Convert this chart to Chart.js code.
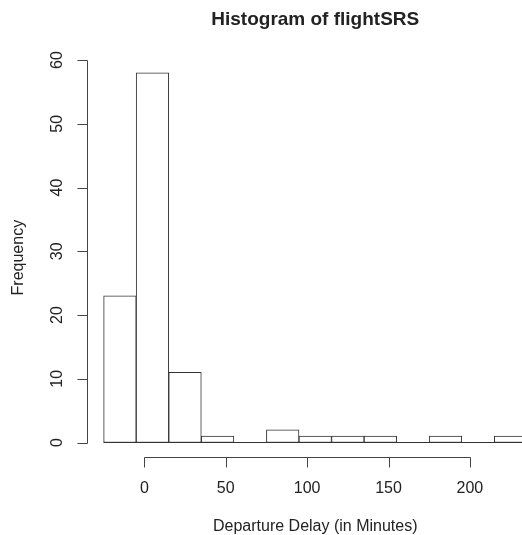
<!DOCTYPE html>
<html>
<head>
<meta charset="utf-8">
<script src="https://cdn.jsdelivr.net/npm/chart.js@4/dist/chart.umd.min.js"></script>
<style>
  html, body { margin: 0; padding: 0; background: #fff; overflow: hidden; }
  #wrap { width: 560px; height: 535px; }
</style>
</head>
<body>
<div id="wrap"><canvas id="hist" width="560" height="535"></canvas></div>
<script>
// Departure delay histogram: bins of 20 minutes starting at -25
const binStarts = [-25, -5, 15, 35, 55, 75, 95, 115, 135, 155, 175, 195, 215];
const binWidth = 20;
const counts = [23, 58, 11, 1, 0, 2, 1, 1, 1, 0, 1, 0, 1];
const xTicks = [0, 50, 100, 150, 200];
const yTicks = [0, 10, 20, 30, 40, 50, 60];

const chartTitle = 'Histogram of flightSRS';
const xTitle = 'Departure Delay (in Minutes)';
const yTitle = 'Frequency';

const barPoints = binStarts.map((s, i) => ({ x: s + binWidth / 2, y: counts[i] }));
const lastEdge = binStarts[binStarts.length - 1] + binWidth;
const baseline = [{ x: binStarts[0], y: 0 }, { x: lastEdge, y: 0 }];

const TEXT = '#222';
const AXIS = '#444';
const FONT = '"Liberation Sans", Arial, Helvetica, sans-serif';

// Base-graphics style axes: detached lines spanning the tick range only
const rAxes = {
  id: 'rAxes',
  afterDraw(chart) {
    const { ctx, chartArea: a, scales: { x, y } } = chart;
    ctx.save();
    ctx.strokeStyle = AXIS;
    ctx.lineWidth = 1;
    ctx.fillStyle = TEXT;
    ctx.font = '16px ' + FONT;

    // y axis
    const ax = Math.round(a.left) + 0.5;
    ctx.beginPath();
    ctx.moveTo(ax, Math.round(y.getPixelForValue(yTicks[0])) + 0.5);
    ctx.lineTo(ax, Math.round(y.getPixelForValue(yTicks[yTicks.length - 1])) + 0.5);
    yTicks.forEach(v => {
      const py = Math.round(y.getPixelForValue(v)) + 0.5;
      ctx.moveTo(ax, py);
      ctx.lineTo(ax - 10, py);
    });
    ctx.stroke();
    ctx.textAlign = 'center';
    ctx.textBaseline = 'middle';
    yTicks.forEach(v => {
      ctx.save();
      ctx.translate(a.left - 29, y.getPixelForValue(v));
      ctx.rotate(-Math.PI / 2);
      ctx.fillText(String(v), 0, 0);
      ctx.restore();
    });

    // x axis
    const ay = Math.round(a.bottom) + 0.5;
    ctx.beginPath();
    ctx.moveTo(Math.round(x.getPixelForValue(xTicks[0])) + 0.5, ay);
    ctx.lineTo(Math.round(x.getPixelForValue(xTicks[xTicks.length - 1])) + 0.5, ay);
    xTicks.forEach(v => {
      const px = Math.round(x.getPixelForValue(v)) + 0.5;
      ctx.moveTo(px, ay);
      ctx.lineTo(px, ay + 10);
    });
    ctx.stroke();
    xTicks.forEach(v => {
      ctx.fillText(String(v), x.getPixelForValue(v), a.bottom + 31);
    });

    // axis titles
    ctx.fillText(xTitle, (a.left + a.right) / 2, a.bottom + 69);
    ctx.save();
    ctx.translate(19, (a.top + a.bottom) / 2);
    ctx.rotate(-Math.PI / 2);
    ctx.fillText(yTitle, 0, 0);
    ctx.restore();

    ctx.restore();
  }
};

new Chart(document.getElementById('hist'), {
  type: 'bar',
  data: {
    datasets: [
      {
        type: 'line',
        data: baseline,
        borderColor: '#333',
        borderWidth: 1,
        pointRadius: 0,
        fill: false
      },
      {
        data: barPoints,
        backgroundColor: '#ffffff',
        borderColor: '#333',
        borderWidth: 1,
        borderSkipped: false,
        barPercentage: 1,
        categoryPercentage: 1
      }
    ]
  },
  options: {
    responsive: false,
    animation: false,
    devicePixelRatio: 1,
    layout: { padding: { left: 86.7, right: 16.2, top: 0, bottom: 77.7 } },
    scales: {
      x: {
        type: 'linear',
        display: false,
        offset: false,
        min: -35.4,
        max: 245.4
      },
      y: {
        type: 'linear',
        display: false,
        min: -2.32,
        max: 60.32
      }
    },
    plugins: {
      legend: { display: false },
      tooltip: { enabled: false },
      title: {
        display: true,
        text: chartTitle,
        fullSize: false,
        color: TEXT,
        font: { family: FONT, size: 19, weight: 'bold', lineHeight: 1.2 },
        padding: { top: 8, bottom: 27.2 }
      }
    }
  },
  plugins: [rAxes]
});
</script>
</body>
</html>
